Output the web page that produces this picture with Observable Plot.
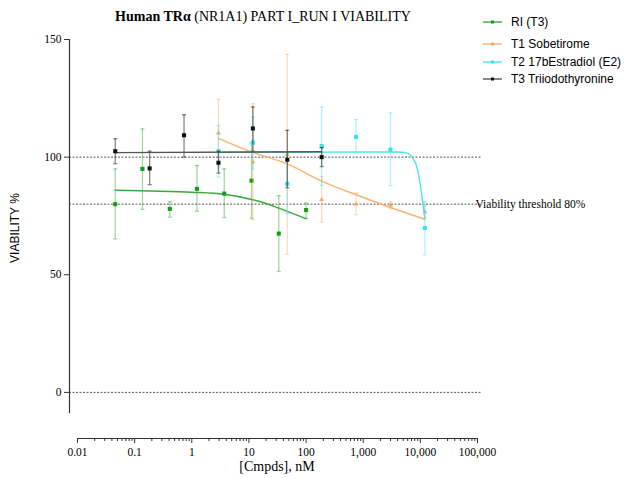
<!DOCTYPE html>
<html><head><meta charset="utf-8">
<script src="https://cdn.jsdelivr.net/npm/d3@7"></script>
<script src="https://cdn.jsdelivr.net/npm/@observablehq/plot@0.6"></script>
<style>
body{margin:0;background:#fff;}
#wrap{position:relative;width:629px;height:478px;overflow:hidden;background:#fff;}
#chart{position:absolute;left:0;top:0;}
#title{position:absolute;left:0;width:526px;top:9px;text-align:center;font-family:"Liberation Serif",serif;font-size:14px;white-space:nowrap;color:#000;}
#ylab{position:absolute;left:15px;top:228px;transform:translate(-50%,-50%) rotate(-90deg);font-family:"Liberation Sans",sans-serif;font-size:12px;white-space:nowrap;color:#000;}
#xlab{position:absolute;left:277px;top:467px;transform:translate(-50%,-50%);font-family:"Liberation Serif",serif;font-size:14px;white-space:nowrap;color:#000;}
.leg{position:absolute;left:483px;font-family:"Liberation Sans",sans-serif;font-size:12px;white-space:nowrap;display:flex;align-items:center;transform:translateY(-50%);color:#000;}
.leg svg{margin-right:9px;}
</style></head><body>
<div id="wrap">
<div id="chart"></div>
<div id="title"><b>Human TRα</b> (NR1A1) PART I_RUN I VIABILITY</div>
<div id="ylab">VIABILITY %</div>
<div id="xlab">[Cmpds], nM</div>
<div id="legend"></div>
</div>
<script>
// ---- data ----
const seriesNames = ["RI (T3)", "T1 Sobetirome", "T2 17bEstradiol (E2)", "T3 Triiodothyronine"];
const seriesColors = ["#169c16", "#f7a858", "#36e2ec", "#111111"];
const seriesLineColors = ["#3aa83a", "#f8b46f", "#48e6ef", "#555555"];

const concRI = [0.0457, 0.137, 0.412, 1.23, 3.70, 11.1, 33.3, 100];
const meanRI = [80, 95, 78, 86.5, 84.5, 90, 67.5, 77.5];
const lowRI  = [65.3, 77.8, 74.5, 77, 74.3, 74, 51.4, 74];
const highRI = [95, 112, 81, 96.4, 95, 106, 83.6, 80.5];
const fitConcRI = [0.0457, 0.2, 1, 3.7, 11.1, 20, 33.3, 55, 100];
const fitRI     = [85.9, 85.6, 85.1, 84.2, 82, 80.3, 78.3, 76.3, 73.8];

const concT1 = [2.93, 11.72, 46.9, 187.5, 750, 3000, 12000];
const meanT1 = [110.2, 97.9, 101, 81.9, 80, 79.5, 76.7];
const lowT1  = [96, 73.4, 58.7, 72.4, 75.5, 78, 74.1];
const highT1 = [124.6, 122.7, 143.7, 91.8, 84.7, 81, 79.5];
const fitConcT1 = [2.93, 11.72, 46.9, 187.5, 750, 3000, 12000];
const fitT1     = [108, 102, 97.1, 89.8, 84, 78.6, 73.6];

const concT2 = [2.93, 11.72, 46.9, 187.5, 750, 3000, 12000];
const meanT2 = [102.5, 106.2, 88.7, 104.7, 108.6, 103.2, 69.9];
const lowT2  = [91.5, 95, 76, 88, 101.6, 87.9, 58.5];
const highT2 = [113.5, 117, 101.4, 121.3, 116, 118.8, 81];
const fitConcT2 = [2.93, 100, 1000, 4000, 5730, 7190, 9020, 10700, 12000];
const fitT2     = [102.1, 102.1, 102.2, 102.2, 101.8, 100, 94.4, 83, 74];

const concT3 = [0.0458, 0.183, 0.732, 2.93, 11.72, 46.9, 187.5];
const meanT3 = [102.5, 95.2, 109.3, 97.6, 112.2, 98.9, 100];
const lowT3  = [97.2, 88.3, 100, 93.2, 102.5, 87, 96];
const highT3 = [107.8, 102.5, 118, 102.5, 121.3, 111.4, 104];
const fitConcT3 = [0.0458, 187.5];
const fitT3     = [101.9, 102.3];

const xTicks = [0.01, 0.1, 1, 10, 100, 1000, 10000, 100000];
const xTickLabels = ["0.01", "0.1", "1", "10", "100", "1,000", "10,000", "100,000"];
const yTicks = [0, 50, 100, 150];
const refLines = [0, 80, 100];
const thresholdLabel = "Viability threshold 80%";

// ---- build tables ----
const sets = [
  [concRI, meanRI, lowRI, highRI, fitConcRI, fitRI],
  [concT1, meanT1, lowT1, highT1, fitConcT1, fitT1],
  [concT2, meanT2, lowT2, highT2, fitConcT2, fitT2],
  [concT3, meanT3, lowT3, highT3, fitConcT3, fitT3]
];
const pts = [], fits = [];
sets.forEach(([c, m, lo, hi, fc, fv], i) => {
  c.forEach((x, j) => pts.push({s: i, x, y: m[j], lo: lo[j], hi: hi[j]}));
  fc.forEach((x, j) => fits.push({s: i, x, y: fv[j]}));
});
const minorTicks = [];
for (let e = -2; e < 5; e++) for (let k = 2; k <= 9; k++) minorTicks.push(k * Math.pow(10, e));

const capSymbol = {draw(ctx) { ctx.moveTo(-2, 0); ctx.lineTo(2, 0); }};
const order = [0, 1, 2, 3];
const marks = [
  Plot.ruleY(refLines, {stroke: "#444", strokeWidth: 0.9, strokeDasharray: "2,1.5"}),
  Plot.text([80], {x: () => 100000, y: d => d, text: () => thresholdLabel, textAnchor: "start", dx: -2,
    fontFamily: "Liberation Serif", fontSize: 11.5, fill: "#000", clip: false}),
  Plot.ruleX([0.01], {y1: -9, y2: 150, dx: -8, stroke: "#333", strokeWidth: 1.2}),
  Plot.ruleY([-19.6], {x1: 0.01, x2: 100000, stroke: "#333", strokeWidth: 1}),
  Plot.axisY({ticks: yTicks, tickSize: 5, tickPadding: 3, fontFamily: "Liberation Serif", fontSize: 11.5, label: null, stroke: "#333"}),
  Plot.axisX({ticks: xTicks, tickSize: 5, tickPadding: 4, tickFormat: d => xTickLabels[xTicks.indexOf(d)],
    fontFamily: "Liberation Serif", fontSize: 11.5, label: null, stroke: "#333"}),
  Plot.axisX({ticks: minorTicks, tickSize: 3, tickFormat: null, text: null, label: null, stroke: "#333"})
];
for (const i of order) {
  const P = pts.filter(d => d.s === i), F = fits.filter(d => d.s === i);
  const eo = i === 3 ? 0.5 : 0.4;
  marks.push(
    Plot.ruleX(P, {x: "x", y1: "lo", y2: "hi", stroke: seriesColors[i], strokeOpacity: eo, strokeWidth: 1.3}),
    Plot.dot(P, {x: "x", y: "lo", symbol: capSymbol, fill: "none", stroke: seriesColors[i], strokeOpacity: eo, strokeWidth: 1.3}),
    Plot.dot(P, {x: "x", y: "hi", symbol: capSymbol, fill: "none", stroke: seriesColors[i], strokeOpacity: eo, strokeWidth: 1.3}),
    Plot.line(F, {x: "x", y: "y", stroke: seriesLineColors[i], strokeWidth: 1.4, curve: "monotone-x"}),
    Plot.dot(P, {x: "x", y: "y", symbol: i === 1 ? "triangle" : "square", r: i === 1 ? 1.8 : 2.3, fill: seriesColors[i], stroke: "none"})
  );
}

const chart = Plot.plot({
  width: 629, height: 478,
  marginLeft: 69, marginRight: 147, marginTop: 39, marginBottom: 40,
  style: {fontFamily: "Liberation Serif", background: "#fff", color: "#000"},
  x: {type: "log", domain: [0.01, 100000], range: [77, 477]},
  y: {domain: [-19.6, 150]},
  marks
});
document.getElementById("chart").appendChild(chart);

// legend
const legTops = [21.5, 44, 62, 79];
const leg = document.getElementById("legend");
seriesNames.forEach((n, i) => {
  const d = document.createElement("div");
  d.className = "leg";
  d.style.top = legTops[i] + "px";
  d.innerHTML = `<svg width="19" height="8"><line x1="0" y1="4" x2="19" y2="4" stroke="${seriesLineColors[i]}" stroke-width="1.4"/><rect x="8" y="2.5" width="3" height="3" fill="${seriesColors[i]}"/></svg><span>${n}</span>`;
  leg.appendChild(d);
});
</script>
</body></html>
